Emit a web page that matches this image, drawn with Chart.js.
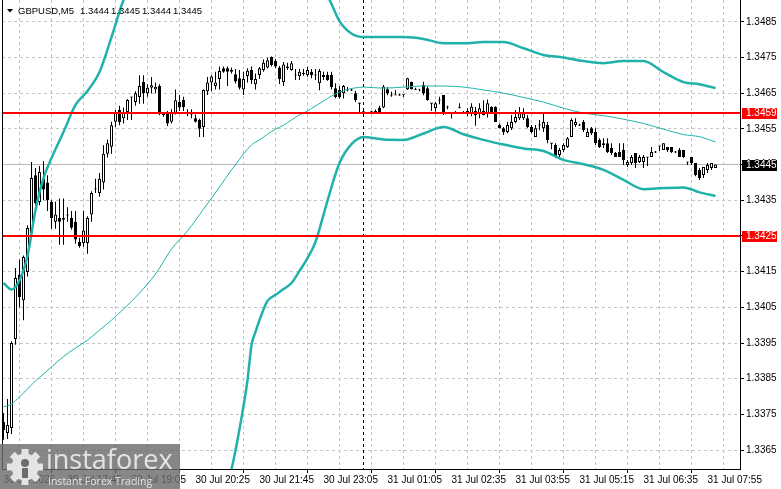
<!DOCTYPE html>
<html lang="en">
<head>
    <meta charset="UTF-8">
    <title>GBPUSD,M5</title>
    <script src="https://cdn.jsdelivr.net/npm/chart.js"></script>
    <style>
        html, body { margin: 0; padding: 0; background: #fff; }
        #wrap { width: 781px; height: 489px; position: relative; }
    </style>
</head>
<body>
    <div id="wrap"><canvas id="chart"></canvas></div>

    <script>
        // one M5 bar per index, 30 Jul -> 31 Jul
        const opens = [
            1.33729, 1.33698, 1.33712, 1.33961, 1.34141, 1.34070, 1.34149, 1.34258, 1.34420, 1.34345,
            1.34410, 1.34400, 1.34345, 1.34290, 1.34300, 1.34300, 1.34310, 1.34300, 1.34290, 1.34234,
            1.34230, 1.34230, 1.34310, 1.34380, 1.34370, 1.34400, 1.34480, 1.34500, 1.34570, 1.34603,
            1.34580, 1.34597, 1.34639, 1.34625, 1.34639, 1.34681, 1.34650, 1.34665, 1.34660, 1.34670,
            1.34590, 1.34594, 1.34570, 1.34595, 1.34625, 1.34631, 1.34595, 1.34598, 1.34580, 1.34575,
            1.34555, 1.34655, 1.34680, 1.34670, 1.34690, 1.34720, 1.34720, 1.34715, 1.34703, 1.34692,
            1.34660, 1.34698, 1.34715, 1.34675, 1.34701, 1.34715, 1.34722, 1.34751, 1.34740, 1.34722,
            1.34681, 1.34725, 1.34715, 1.34701, 1.34698, 1.34705, 1.34700, 1.34710, 1.34701, 1.34678,
            1.34701, 1.34701, 1.34701, 1.34664, 1.34659, 1.34650, 1.34659, 1.34659, 1.34650, 1.34622,
            1.34598, 1.34593, 1.34598, 1.34600, 1.34610, 1.34610, 1.34661, 1.34645, 1.34645, 1.34645,
            1.34647, 1.34661, 1.34681, 1.34661, 1.34659, 1.34673, 1.34664, 1.34622, 1.34608, 1.34631,
            1.34645, 1.34611, 1.34596, 1.34596, 1.34609, 1.34596, 1.34600, 1.34592, 1.34601, 1.34591,
            1.34601, 1.34594, 1.34611, 1.34611, 1.34561, 1.34552, 1.34541, 1.34552, 1.34569, 1.34580,
            1.34580, 1.34580, 1.34555, 1.34527, 1.34561, 1.34552, 1.34561, 1.34510, 1.34505, 1.34477,
            1.34491, 1.34499, 1.34527, 1.34561, 1.34561, 1.34569, 1.34527, 1.34552, 1.34541, 1.34519,
            1.34510, 1.34510, 1.34496, 1.34482, 1.34485, 1.34491, 1.34449, 1.34454, 1.34482, 1.34457,
            1.34457, 1.34471, 1.34471, 1.34485, 1.34502, 1.34491, 1.34499, 1.34499, 1.34485, 1.34491,
            1.34491, 1.34457, 1.34471, 1.34454, 1.34435, 1.34421, 1.34435, 1.34440, 1.34440
        ];
        const highs = [
            1.33754, 1.33793, 1.33955, 1.34160, 1.34183, 1.34195, 1.34280, 1.34457, 1.34440, 1.34446,
            1.34460, 1.34420, 1.34350, 1.34346, 1.34355, 1.34355, 1.34330, 1.34320, 1.34320, 1.34245,
            1.34320, 1.34305, 1.34375, 1.34410, 1.34426, 1.34504, 1.34520, 1.34570, 1.34603, 1.34615,
            1.34610, 1.34633, 1.34640, 1.34655, 1.34700, 1.34700, 1.34675, 1.34695, 1.34680, 1.34675,
            1.34596, 1.34600, 1.34605, 1.34660, 1.34645, 1.34640, 1.34605, 1.34605, 1.34590, 1.34578,
            1.34660, 1.34695, 1.34700, 1.34710, 1.34725, 1.34725, 1.34725, 1.34722, 1.34718, 1.34715,
            1.34710, 1.34720, 1.34725, 1.34705, 1.34723, 1.34744, 1.34749, 1.34753, 1.34746, 1.34726,
            1.34737, 1.34735, 1.34740, 1.34718, 1.34718, 1.34718, 1.34723, 1.34718, 1.34718, 1.34718,
            1.34710, 1.34710, 1.34710, 1.34678, 1.34670, 1.34673, 1.34667, 1.34662, 1.34656, 1.34623,
            1.34608, 1.34596, 1.34600, 1.34604, 1.34615, 1.34673, 1.34667, 1.34654, 1.34659, 1.34648,
            1.34647, 1.34693, 1.34683, 1.34665, 1.34662, 1.34682, 1.34669, 1.34622, 1.34625, 1.34640,
            1.34645, 1.34615, 1.34596, 1.34600, 1.34622, 1.34600, 1.34608, 1.34622, 1.34611, 1.34622,
            1.34630, 1.34632, 1.34613, 1.34613, 1.34565, 1.34555, 1.34569, 1.34589, 1.34603, 1.34611,
            1.34608, 1.34589, 1.34561, 1.34561, 1.34575, 1.34594, 1.34569, 1.34510, 1.34510, 1.34496,
            1.34510, 1.34527, 1.34580, 1.34580, 1.34564, 1.34575, 1.34552, 1.34555, 1.34552, 1.34524,
            1.34524, 1.34524, 1.34510, 1.34485, 1.34510, 1.34510, 1.34463, 1.34477, 1.34482, 1.34477,
            1.34477, 1.34471, 1.34499, 1.34488, 1.34502, 1.34510, 1.34499, 1.34499, 1.34488, 1.34496,
            1.34491, 1.34457, 1.34471, 1.34454, 1.34440, 1.34443, 1.34454, 1.34454, 1.34450
        ];
        const lows = [
            1.33679, 1.33681, 1.33695, 1.33945, 1.34050, 1.34014, 1.34136, 1.34247, 1.34336, 1.34336,
            1.34350, 1.34320, 1.34270, 1.34270, 1.34225, 1.34225, 1.34290, 1.34268, 1.34228, 1.34217,
            1.34220, 1.34200, 1.34290, 1.34370, 1.34360, 1.34380, 1.34470, 1.34480, 1.34555, 1.34560,
            1.34565, 1.34575, 1.34575, 1.34615, 1.34620, 1.34620, 1.34640, 1.34649, 1.34650, 1.34588,
            1.34584, 1.34558, 1.34565, 1.34590, 1.34600, 1.34600, 1.34585, 1.34580, 1.34568, 1.34527,
            1.34527, 1.34645, 1.34655, 1.34660, 1.34660, 1.34707, 1.34670, 1.34705, 1.34677, 1.34660,
            1.34645, 1.34680, 1.34676, 1.34660, 1.34690, 1.34710, 1.34719, 1.34725, 1.34720, 1.34676,
            1.34670, 1.34715, 1.34713, 1.34687, 1.34687, 1.34699, 1.34696, 1.34692, 1.34687, 1.34658,
            1.34687, 1.34685, 1.34660, 1.34636, 1.34634, 1.34635, 1.34655, 1.34656, 1.34625, 1.34597,
            1.34598, 1.34592, 1.34594, 1.34593, 1.34592, 1.34608, 1.34644, 1.34640, 1.34645, 1.34643,
            1.34639, 1.34659, 1.34660, 1.34659, 1.34655, 1.34644, 1.34629, 1.34600, 1.34598, 1.34619,
            1.34589, 1.34605, 1.34579, 1.34592, 1.34608, 1.34593, 1.34585, 1.34585, 1.34559, 1.34580,
            1.34588, 1.34582, 1.34594, 1.34569, 1.34552, 1.34533, 1.34538, 1.34547, 1.34566, 1.34575,
            1.34575, 1.34552, 1.34538, 1.34527, 1.34546, 1.34541, 1.34510, 1.34493, 1.34468, 1.34468,
            1.34485, 1.34496, 1.34527, 1.34555, 1.34558, 1.34541, 1.34527, 1.34533, 1.34505, 1.34496,
            1.34496, 1.34482, 1.34477, 1.34471, 1.34471, 1.34449, 1.34443, 1.34449, 1.34440, 1.34454,
            1.34440, 1.34446, 1.34471, 1.34482, 1.34488, 1.34491, 1.34485, 1.34482, 1.34482, 1.34471,
            1.34468, 1.34449, 1.34449, 1.34417, 1.34407, 1.34412, 1.34426, 1.34435, 1.34440
        ];
        const closes = [
            1.33706, 1.33720, 1.33950, 1.34132, 1.34079, 1.34191, 1.34272, 1.34412, 1.34342, 1.34429,
            1.34380, 1.34350, 1.34300, 1.34310, 1.34290, 1.34295, 1.34307, 1.34273, 1.34240, 1.34222,
            1.34265, 1.34300, 1.34370, 1.34383, 1.34410, 1.34480, 1.34510, 1.34560, 1.34595, 1.34569,
            1.34595, 1.34631, 1.34639, 1.34650, 1.34670, 1.34650, 1.34665, 1.34672, 1.34668, 1.34594,
            1.34591, 1.34565, 1.34597, 1.34630, 1.34610, 1.34611, 1.34595, 1.34590, 1.34570, 1.34550,
            1.34659, 1.34680, 1.34697, 1.34680, 1.34712, 1.34710, 1.34710, 1.34710, 1.34683, 1.34665,
            1.34690, 1.34713, 1.34687, 1.34690, 1.34720, 1.34735, 1.34742, 1.34729, 1.34725, 1.34690,
            1.34730, 1.34720, 1.34734, 1.34701, 1.34710, 1.34705, 1.34715, 1.34700, 1.34701, 1.34712,
            1.34695, 1.34687, 1.34667, 1.34639, 1.34639, 1.34670, 1.34659, 1.34659, 1.34631, 1.34622,
            1.34598, 1.34593, 1.34598, 1.34595, 1.34595, 1.34669, 1.34650, 1.34645, 1.34645, 1.34645,
            1.34647, 1.34692, 1.34661, 1.34661, 1.34659, 1.34650, 1.34631, 1.34622, 1.34622, 1.34631,
            1.34597, 1.34611, 1.34596, 1.34596, 1.34609, 1.34596, 1.34592, 1.34612, 1.34588, 1.34608,
            1.34588, 1.34622, 1.34594, 1.34569, 1.34552, 1.34541, 1.34561, 1.34569, 1.34583, 1.34594,
            1.34594, 1.34555, 1.34541, 1.34552, 1.34561, 1.34569, 1.34519, 1.34510, 1.34471, 1.34491,
            1.34505, 1.34524, 1.34575, 1.34569, 1.34561, 1.34547, 1.34541, 1.34538, 1.34510, 1.34499,
            1.34505, 1.34485, 1.34482, 1.34471, 1.34471, 1.34463, 1.34457, 1.34471, 1.34454, 1.34471,
            1.34471, 1.34471, 1.34485, 1.34485, 1.34502, 1.34510, 1.34491, 1.34485, 1.34485, 1.34471,
            1.34471, 1.34457, 1.34454, 1.34421, 1.34412, 1.34443, 1.34449, 1.34454, 1.34450
        ];

        // bollinger bands, read at these bars
        const bandBars = [
            0, 2, 4, 6, 8, 10, 12, 15, 18, 21,
            24, 27, 30, 34, 38, 42, 46, 50, 54, 57,
            59, 61, 62, 63, 64, 66, 68, 70, 72, 74,
            76, 78, 80, 82, 84, 87, 90, 95, 100, 105,
            110, 115, 120, 125, 130, 135, 140, 145, 150, 155,
            160, 165, 170, 174, 178
        ];
        const upperBand = [
            1.34118, 1.34100, 1.34126, 1.34194, 1.34322, 1.34412, 1.34468, 1.34541, 1.34617, 1.34656,
            1.34709, 1.34807, 1.34911, 1.35000, 1.35080, 1.35150, 1.35200, 1.35240, 1.35270, 1.35273,
            1.35221, 1.35140, 1.35066, 1.35045, 1.35024, 1.35002, 1.35013, 1.35019, 1.35032, 1.35026,
            1.35012, 1.34995, 1.34947, 1.34900, 1.34852, 1.34817, 1.34807, 1.34807, 1.34807, 1.34802,
            1.34790, 1.34790, 1.34793, 1.34793, 1.34776, 1.34757, 1.34750, 1.34740, 1.34734, 1.34740,
            1.34740, 1.34709, 1.34681, 1.34675, 1.34664
        ];
        const middleBand = [
            1.33771, 1.33779, 1.33799, 1.33821, 1.33844, 1.33863, 1.33883, 1.33912, 1.33936, 1.33958,
            1.33986, 1.34014, 1.34045, 1.34090, 1.34143, 1.34213, 1.34264, 1.34325, 1.34387, 1.34435,
            1.34465, 1.34493, 1.34505, 1.34513, 1.34519, 1.34535, 1.34549, 1.34560, 1.34575, 1.34589,
            1.34600, 1.34614, 1.34628, 1.34642, 1.34653, 1.34663, 1.34667, 1.34664, 1.34667, 1.34670,
            1.34670, 1.34667, 1.34659, 1.34650, 1.34638, 1.34625, 1.34608, 1.34594, 1.34587, 1.34577,
            1.34565, 1.34549, 1.34534, 1.34528, 1.34513
        ];
        const lowerBand = [
            1.33424, 1.33458, 1.33472, 1.33448, 1.33366, 1.33314, 1.33298, 1.33283, 1.33255, 1.33260,
            1.33263, 1.33221, 1.33179, 1.33180, 1.33206, 1.33276, 1.33328, 1.33410, 1.33504, 1.33597,
            1.33709, 1.33846, 1.33944, 1.33981, 1.34014, 1.34068, 1.34085, 1.34101, 1.34118, 1.34152,
            1.34188, 1.34233, 1.34309, 1.34387, 1.34454, 1.34507, 1.34527, 1.34520, 1.34519, 1.34537,
            1.34555, 1.34535, 1.34519, 1.34506, 1.34495, 1.34488, 1.34463, 1.34451, 1.34435, 1.34407,
            1.34381, 1.34384, 1.34386, 1.34372, 1.34362
        ];

        // time axis: grid every 8 bars, a label every 16 bars
        const gridStep = 8;
        const labelStep = 16;
        const timeLabels = [
            '30 Jul 2026', '30 Jul 17:45', '30 Jul 19:05', '30 Jul 20:25', '30 Jul 21:45', '30 Jul 23:05',
            '31 Jul 01:05', '31 Jul 02:35', '31 Jul 03:55', '31 Jul 05:15', '31 Jul 06:35', '31 Jul 07:55'
        ];

        // price axis
        const priceTicks = [1.3365, 1.3375, 1.3385, 1.3395, 1.3405, 1.3415, 1.3425,
                            1.3435, 1.3445, 1.3455, 1.3465, 1.3475, 1.3485];
        const yMin = 1.33597;
        const yMax = 1.34911;

        // levels drawn on the chart
        const redLevels = [1.34594, 1.3425];
        const separatorBar = 90;
        const symbolName = 'GBPUSD,M5';

        const teal = '#20b2aa';
        const axisFont = { family: "'Liberation Sans Narrow', 'Liberation Sans', Arial, sans-serif", size: 10 };
        const fontCss = "10px 'Liberation Sans Narrow', 'Liberation Sans', Arial, sans-serif";

        const gridBars = [];
        for (let b = 0; b < opens.length; b += gridStep) gridBars.push(b);

        const wicks = opens.map((o, i) => ({ x: i, y: [lows[i], highs[i]] }));
        const bodies = opens.map((o, i) => {
            let lo = Math.min(o, closes[i]);
            let hi = Math.max(o, closes[i]);
            if (hi - lo < 0.00003) {
                const m = (hi + lo) / 2;
                lo = m - 0.000015;
                hi = m + 0.000015;
            }
            return { x: i, y: [lo, hi] };
        });
        const bodyColors = opens.map((o, i) => closes[i] > o ? '#ffffff' : '#000000');

        function bandData(values) {
            return bandBars.map((b, k) => ({ x: b, y: values[k] }));
        }

        function hLine(ctx, area, y, color, width) {
            ctx.save();
            ctx.strokeStyle = color;
            ctx.lineWidth = width;
            ctx.beginPath();
            ctx.moveTo(area.left, y);
            ctx.lineTo(area.right, y);
            ctx.stroke();
            ctx.restore();
        }

        function priceBox(ctx, y, value, bg) {
            ctx.save();
            ctx.fillStyle = bg;
            ctx.fillRect(742, Math.round(y) - 5, 35, 11);
            ctx.fillStyle = '#ffffff';
            ctx.font = fontCss;
            ctx.textBaseline = 'middle';
            ctx.fillText(value.toFixed(4), 746, Math.round(y) + 0.5);
            ctx.restore();
        }

        // the axes must not push the plot area in from the edges
        function noPadding(s) {
            s.paddingTop = 0;
            s.paddingBottom = 0;
            s.paddingLeft = 0;
            s.paddingRight = 0;
        }

        const extras = {
            id: 'extras',
            beforeDatasetsDraw(chart) {
                const { ctx, chartArea: a, scales: { x, y } } = chart;
                const last = closes[closes.length - 1];
                hLine(ctx, a, Math.floor(y.getPixelForValue(last)) + 0.5, '#b8b8b8', 1);

                const xs = Math.floor(x.getPixelForValue(separatorBar)) + 0.5;
                ctx.save();
                ctx.strokeStyle = '#000';
                ctx.lineWidth = 1;
                ctx.setLineDash([3, 3]);
                ctx.beginPath();
                ctx.moveTo(xs, a.top);
                ctx.lineTo(xs, a.bottom);
                ctx.stroke();
                ctx.restore();
            },
            afterDatasetsDraw(chart) {
                const { ctx, chartArea: a, scales: { y } } = chart;
                redLevels.forEach(v => hLine(ctx, a, Math.round(y.getPixelForValue(v)), '#ff0000', 2));
            },
            afterDraw(chart) {
                const { ctx, chartArea: a, scales: { y } } = chart;

                // left frame line
                ctx.save();
                ctx.strokeStyle = '#000';
                ctx.lineWidth = 1;
                ctx.beginPath();
                ctx.moveTo(a.left + 0.5, a.top);
                ctx.lineTo(a.left + 0.5, a.bottom);
                ctx.stroke();
                ctx.restore();

                redLevels.forEach(v => priceBox(ctx, y.getPixelForValue(v), v, '#ff0000'));
                const last = closes[closes.length - 1];
                priceBox(ctx, y.getPixelForValue(last), last, '#000000');

                // title: symbol + OHLC of last bar
                ctx.save();
                ctx.fillStyle = '#000';
                ctx.beginPath();
                ctx.moveTo(7, 9);
                ctx.lineTo(13, 9);
                ctx.lineTo(10, 12.5);
                ctx.closePath();
                ctx.fill();
                ctx.font = "9.5px 'Liberation Sans', Arial, sans-serif";
                ctx.textBaseline = 'alphabetic';
                ctx.fillText(symbolName, 18, 14);
                const n = opens.length - 1;
                [opens[n], highs[n], lows[n], closes[n]].forEach((v, k) => {
                    ctx.fillText(v.toFixed(4), 80 + k * 31, 14);
                });
                ctx.restore();

                // watermark
                ctx.save();
                ctx.fillStyle = 'rgba(108,108,108,0.82)';
                ctx.fillRect(0, 444, 180, 45);
                ctx.translate(25, 467);
                ctx.fillStyle = '#e4e4e4';
                for (let k = 0; k < 8; k++) {
                    ctx.rotate(Math.PI / 4);
                    ctx.fillRect(-3.5, -18, 7, 8);
                }
                ctx.beginPath();
                ctx.arc(0, 0, 13.5, 0, Math.PI * 2);
                ctx.fill();
                ctx.fillStyle = '#6c6c6c';
                ctx.beginPath();
                ctx.arc(0, -4, 4, 0, Math.PI * 2);
                ctx.fill();
                ctx.fillRect(-3, 1, 6, 10);
                ctx.setTransform(1, 0, 0, 1, 0, 0);
                ctx.fillStyle = '#e4e4e4';
                ctx.font = "27px 'Open Sans', sans-serif";
                ctx.fillText('instaforex', 46, 469);
                ctx.font = "10.5px 'Open Sans', sans-serif";
                ctx.fillText('Instant Forex Trading', 48, 485);
                ctx.restore();
            }
        };

        new Chart(document.getElementById('chart'), {
            type: 'bar',
            data: {
                datasets: [
                    {
                        type: 'line', data: bandData(upperBand), borderColor: teal, borderWidth: 2.5,
                        pointRadius: 0, cubicInterpolationMode: 'monotone', clip: 0, order: 0
                    },
                    {
                        type: 'line', data: bandData(middleBand), borderColor: teal, borderWidth: 1,
                        pointRadius: 0, cubicInterpolationMode: 'monotone', clip: 0, order: 0
                    },
                    {
                        type: 'line', data: bandData(lowerBand), borderColor: teal, borderWidth: 2.5,
                        pointRadius: 0, cubicInterpolationMode: 'monotone', clip: 0, order: 0
                    },
                    {
                        data: bodies, backgroundColor: bodyColors, borderColor: '#000', borderWidth: 1,
                        borderSkipped: false, barThickness: 3, grouped: false, inflateAmount: 0, order: 1
                    },
                    {
                        data: wicks, backgroundColor: '#000', borderWidth: 0,
                        barThickness: 1, grouped: false, inflateAmount: 0, order: 2
                    }
                ]
            },
            options: {
                responsive: true,
                maintainAspectRatio: false,
                animation: false,
                events: [],
                layout: { padding: { left: 2, top: 0, right: 0, bottom: 0 } },
                plugins: { legend: { display: false }, tooltip: { enabled: false } },
                scales: {
                    x: {
                        type: 'linear',
                        min: -0.375,
                        max: 184.125,
                        offset: false,
                        afterBuildTicks: s => { s.ticks = gridBars.map(v => ({ value: v })); },
                        afterFit: s => { s.height = 20; noPadding(s); },
                        grid: {
                            color: '#c4c4c4',
                            tickLength: 4,
                            tickColor: c => (c.tick && c.tick.value % labelStep === 0) ? '#000' : 'rgba(0,0,0,0)',
                            tickBorderDash: []
                        },
                        border: { display: true, color: '#000', dash: [3, 3] },
                        ticks: {
                            autoSkip: false, maxRotation: 0, minRotation: 0, align: 'start', padding: 1,
                            color: '#000', font: axisFont,
                            callback: v => v % labelStep === 0 ? timeLabels[v / labelStep] : ''
                        }
                    },
                    y: {
                        position: 'right',
                        min: yMin,
                        max: yMax,
                        afterBuildTicks: s => { s.ticks = priceTicks.map(v => ({ value: v })); },
                        afterFit: s => { s.width = 41; noPadding(s); },
                        grid: { color: '#c4c4c4', tickLength: 4, tickColor: '#000', tickBorderDash: [] },
                        border: { display: true, color: '#000', dash: [3, 3] },
                        ticks: { padding: 2, color: '#000', font: axisFont, callback: v => v.toFixed(4) }
                    }
                }
            },
            plugins: [extras]
        });
    </script>
</body>
</html>
